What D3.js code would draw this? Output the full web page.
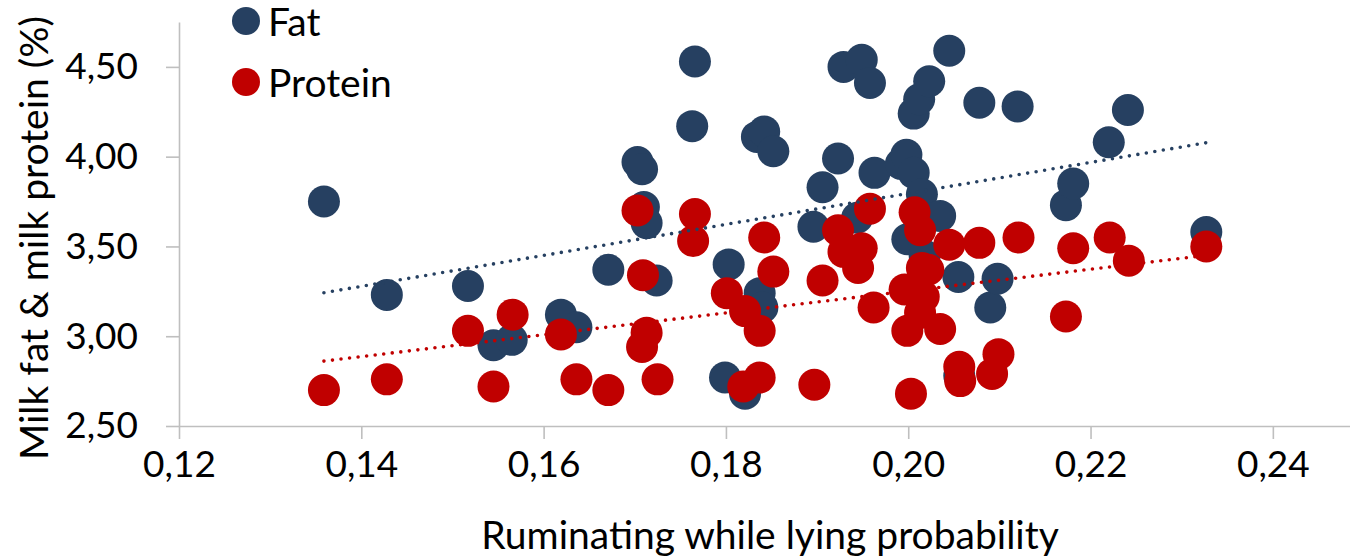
<!DOCTYPE html>
<html>
<head>
<meta charset="utf-8">
<script src="https://cdn.jsdelivr.net/npm/d3@7"></script>
<style>
  html, body { margin: 0; padding: 0; background: #ffffff; }
  svg { display: block; font-family: Lato, "Open Sans", sans-serif; }
</style>
</head>
<body>
<svg id="chart" width="1350" height="560"></svg>
<script>
// Ruminating-while-lying probability against milk fat (%) per cow
const fatX = [0.1359, 0.1428, 0.1517, 0.1545, 0.1565, 0.1619, 0.1636, 0.1671, 0.1703, 0.1708,
              0.1710, 0.1713, 0.1724, 0.1763, 0.1766, 0.1799, 0.1803, 0.1821, 0.1834, 0.1837,
              0.1840, 0.1842, 0.1852, 0.1896, 0.1906, 0.1923, 0.1929, 0.1944, 0.1949, 0.1958,
              0.1963, 0.1992, 0.1998, 0.1999, 0.2006, 0.2006, 0.2012, 0.2015, 0.2018, 0.2023,
              0.2035, 0.2045, 0.2055, 0.2056, 0.2078, 0.2090, 0.2098, 0.2120, 0.2173, 0.2181,
              0.2220, 0.2241, 0.2327];
const fatY = [3.75, 3.23, 3.28, 2.95, 2.98, 3.12, 3.05, 3.37, 3.97, 3.93,
              3.72, 3.63, 3.31, 4.17, 4.53, 2.77, 3.40, 2.68, 4.11, 3.24,
              3.16, 4.14, 4.03, 3.61, 3.83, 3.99, 4.50, 3.66, 4.54, 4.41,
              3.91, 3.96, 4.01, 3.54, 3.91, 4.24, 4.32, 3.79, 3.45, 4.42,
              3.67, 4.59, 3.33, 2.78, 4.30, 3.16, 3.32, 4.28, 3.73, 3.85,
              4.08, 4.26, 3.58];

// Ruminating-while-lying probability against milk protein (%) per cow
const proteinX = [0.1359, 0.1428, 0.1517, 0.1545, 0.1566, 0.1619, 0.1636, 0.1671, 0.1703, 0.1708,
                  0.1709, 0.1713, 0.1725, 0.1764, 0.1766, 0.1801, 0.1819, 0.1821, 0.1837, 0.1837,
                  0.1842, 0.1852, 0.1897, 0.1906, 0.1923, 0.1929, 0.1945, 0.1949, 0.1958, 0.1962,
                  0.1996, 0.1999, 0.2003, 0.2007, 0.2013, 0.2013, 0.2015, 0.2017, 0.2022, 0.2035,
                  0.2045, 0.2056, 0.2057, 0.2078, 0.2092, 0.2099, 0.2121, 0.2173, 0.2181, 0.2221,
                  0.2242, 0.2327];
const proteinY = [2.70, 2.76, 3.03, 2.72, 3.12, 3.01, 2.76, 2.70, 3.70, 2.94,
                  3.34, 3.02, 2.76, 3.53, 3.68, 3.24, 2.72, 3.14, 3.03, 2.77,
                  3.55, 3.36, 2.73, 3.31, 3.59, 3.47, 3.38, 3.49, 3.71, 3.16,
                  3.26, 3.03, 2.68, 3.69, 3.59, 3.13, 3.38, 3.22, 3.37, 3.04,
                  3.51, 2.83, 2.75, 3.52, 2.79, 2.90, 3.55, 3.11, 3.49, 3.55,
                  3.42, 3.50];

// Linear trend lines: [intercept, slope]
const fatTrend = [2.0695, 8.629];
const proteinTrend = [2.0346, 6.084];

const xTicks = [0.12, 0.14, 0.16, 0.18, 0.20, 0.22, 0.24];
const yTicks = [2.50, 3.00, 3.50, 4.00, 4.50];
const seriesNames = ["Fat", "Protein"];
const seriesColors = ["#264061", "#c00000"];
const xTitle = "Ruminating while lying probability";
const yTitle = "Milk fat & milk protein (%)";

const svg = d3.select("#chart");

const x = d3.scaleLinear().domain([0.12, 0.25]).range([179, 1364]);
const y = d3.scaleLinear().domain([2.5, 4.75]).range([426, 22]);

const locale = d3.formatLocale({ decimal: ",", thousands: ".", grouping: [3], currency: ["", ""] });
const fmt = locale.format(".2f");

const axisColor = "#bfbfbf";
const tickFont = 37;

// Axes
const xAxis = svg.append("g")
  .attr("transform", `translate(0,${y(2.5)})`)
  .call(d3.axisBottom(x).tickValues(xTicks).tickFormat(fmt).tickSize(13).tickSizeOuter(0).tickPadding(12));
const yAxis = svg.append("g")
  .attr("transform", `translate(${x(0.12)},0)`)
  .call(d3.axisLeft(y).tickValues(yTicks).tickFormat(fmt).tickSize(13).tickSizeOuter(0).tickPadding(28));

[xAxis, yAxis].forEach(g => {
  g.select(".domain").attr("stroke", axisColor).attr("stroke-width", 1.6);
  g.selectAll(".tick line").attr("stroke", axisColor).attr("stroke-width", 1.6);
  g.selectAll(".tick text")
    .attr("fill", "#000")
    .style("font-family", "Lato, sans-serif")
    .style("font-size", tickFont + "px");
});

// Axis titles
svg.append("text")
  .attr("x", 770).attr("y", 549)
  .attr("text-anchor", "middle")
  .style("font-size", "39px")
  .attr("fill", "#000")
  .text(xTitle);

svg.append("text")
  .attr("transform", `translate(48,238) rotate(-90)`)
  .attr("text-anchor", "middle")
  .style("font-size", "39px")
  .attr("fill", "#000")
  .text(yTitle);

// Markers: fat first, protein on top
const fatPts = fatX.map((v, i) => ({ x: v, y: fatY[i] }));
const proteinPts = proteinX.map((v, i) => ({ x: v, y: proteinY[i] }));
const R = 16;

svg.append("g").selectAll("circle").data(fatPts).join("circle")
  .attr("cx", d => x(d.x)).attr("cy", d => y(d.y)).attr("r", R)
  .attr("fill", seriesColors[0]);

svg.append("g").selectAll("circle").data(proteinPts).join("circle")
  .attr("cx", d => x(d.x)).attr("cy", d => y(d.y)).attr("r", R)
  .attr("fill", seriesColors[1]);

// Dotted trend lines over the data range, drawn above the markers
[[fatPts, fatTrend], [proteinPts, proteinTrend]].forEach(([pts, t], i) => {
  const [x0, x1] = d3.extent(pts, d => d.x);
  svg.append("line")
    .attr("x1", x(x0)).attr("y1", y(t[0] + t[1] * x0))
    .attr("x2", x(x1)).attr("y2", y(t[0] + t[1] * x1))
    .attr("stroke", seriesColors[i])
    .attr("stroke-width", 3.6)
    .attr("stroke-linecap", "round")
    .attr("stroke-dasharray", "0 8.6");
});

// Legend
const legend = svg.append("g");
const legendRows = [{ cy: 21, ty: 36 }, { cy: 82, ty: 97 }];
seriesNames.forEach((name, i) => {
  legend.append("circle")
    .attr("cx", 246).attr("cy", legendRows[i].cy).attr("r", 14)
    .attr("fill", seriesColors[i]);
  legend.append("text")
    .attr("x", 268).attr("y", legendRows[i].ty)
    .style("font-size", "39px")
    .attr("fill", "#000")
    .text(name);
});
</script>
</body>
</html>
